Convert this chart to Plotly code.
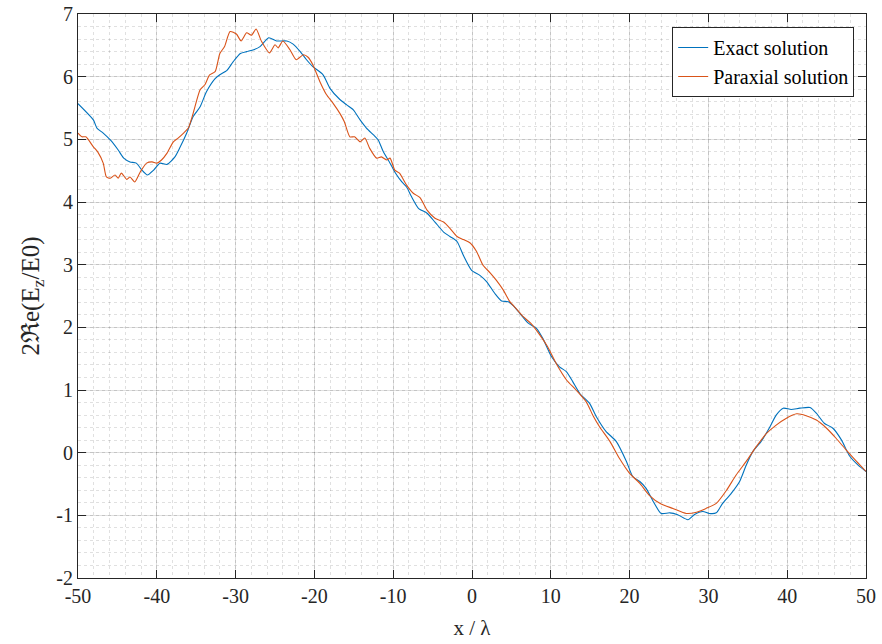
import plotly.graph_objects as go

# Exact field, sampled along x/lambda
x_exact = [-50, -48.05, -47.6, -46.8, -45.9, -44.9, -44.2, -43.4, -42.6, -41.9, -41.2, -40.4,
           -39.6, -38.7, -37.7, -37.1, -36.2, -35.4, -34.5, -33.7, -32.6, -32.0, -31.1, -30.3,
           -29.4, -28.6, -27.7, -26.9, -25.8, -24.8, -23.5, -22.7, -21.8, -21.0, -20.2, -18.9,
           -18.0, -16.8, -15.9, -15.06, -14.2, -13.4, -12.5, -11.9, -11.25, -10.4, -9.8, -8.9,
           -8.3, -7.7, -6.8, -5.7, -4.7, -3.6, -2.8, -1.9, -1.1, -0.05, 1.0, 1.85, 2.9, 3.75,
           4.6, 5.2, 6.1, 7.1, 8.2, 9.0, 10.1, 11.1, 12.0, 12.8, 13.7, 14.9, 15.8, 17.0, 18.3,
           19.6, 20.4, 21.3, 22.1, 23.0, 24.0, 25.1, 26.1, 27.4, 28.2, 29.3, 30.1, 31.0, 31.8,
           32.9, 33.96, 34.8, 35.65, 36.7, 37.8, 38.6, 39.5, 40.5, 41.6, 42.9, 43.7, 44.7, 45.8,
           46.9, 47.9, 49.0, 50]
y_exact = [5.57, 5.31, 5.18, 5.10, 4.99, 4.83, 4.70, 4.64, 4.62, 4.51, 4.43, 4.51,
           4.62, 4.60, 4.72, 4.86, 5.10, 5.36, 5.52, 5.76, 5.97, 6.03, 6.10, 6.24,
           6.37, 6.40, 6.43, 6.48, 6.62, 6.57, 6.57, 6.52, 6.40, 6.27, 6.16, 6.03,
           5.81, 5.64, 5.55, 5.47, 5.31, 5.18, 5.07, 4.99, 4.80, 4.62, 4.48, 4.32,
           4.24, 4.09, 3.90, 3.82, 3.68, 3.52, 3.45, 3.37, 3.15, 2.91, 2.83, 2.73, 2.54, 2.42,
           2.41, 2.35, 2.22, 2.07, 1.98, 1.82, 1.53, 1.37, 1.29, 1.13, 0.94, 0.79, 0.57, 0.34, 0.18,
           -0.14, -0.38, -0.46, -0.57, -0.78, -0.97, -0.96, -0.99, -1.07, -0.99, -0.94, -0.97, -0.96, -0.81,
           -0.65, -0.46, -0.20, 0.02, 0.18, 0.41, 0.60, 0.71, 0.69, 0.71, 0.72, 0.63, 0.47, 0.39,
           0.20, -0.05, -0.20, -0.30]

# Paraxial approximation, sampled along x/lambda
x_parax = [-50, -49.5, -49.0, -48.05, -47.5, -46.8, -46.4, -45.9, -45.3, -44.9, -44.5, -43.8,
           -43.4, -42.8, -42.1, -41.3, -40.6, -40.0, -39.4, -38.7, -37.9, -37.3, -36.6, -36.0,
           -35.4, -34.5, -33.9, -33.3, -32.6, -32.0, -31.4, -30.7, -29.9, -29.3, -28.6, -28.0,
           -27.4, -26.7, -25.7, -25.0, -24.6, -24.0, -23.1, -22.3, -21.4, -20.8, -20.2, -19.3,
           -18.5, -17.6, -16.75, -16.2, -15.5, -14.9, -14.2, -13.6, -13.0, -12.1, -11.5, -10.8,
           -10.4, -9.8, -9.2, -8.3, -7.45, -6.6, -5.7, -4.7, -3.6, -2.8, -1.9, -1.1, -0.27, 0.58,
           1.4, 2.3, 3.1, 4.0, 4.8, 5.6, 6.5, 7.5, 8.6, 9.6, 10.7, 12.0, 13.2, 14.5, 15.4, 16.2,
           17.5, 18.7, 20.0, 21.3, 22.5, 24.0, 25.5, 27.2, 28.5, 29.7, 31.0, 32.3, 33.5, 34.8,
           36.1, 37.4, 38.6, 39.9, 41.2, 42.4, 43.7, 45.0, 46.2, 47.5, 48.8, 50]
y_parax = [5.10, 5.04, 5.04, 4.88, 4.80, 4.62, 4.40, 4.38, 4.43, 4.38, 4.46, 4.36,
           4.40, 4.32, 4.48, 4.62, 4.64, 4.62, 4.67, 4.78, 4.96, 5.02, 5.10, 5.18,
           5.41, 5.79, 5.87, 6.03, 6.08, 6.37, 6.48, 6.72, 6.68, 6.57, 6.70, 6.66,
           6.76, 6.56, 6.38, 6.51, 6.46, 6.57, 6.43, 6.27, 6.35, 6.31, 6.19, 5.92,
           5.72, 5.57, 5.41, 5.28, 5.04, 5.04, 4.96, 5.02, 4.86, 4.70, 4.72, 4.67,
           4.70, 4.51, 4.46, 4.27, 4.14, 4.07, 3.87, 3.74, 3.68, 3.58, 3.45, 3.40, 3.35, 3.21,
           2.99, 2.87, 2.75, 2.59, 2.41, 2.30, 2.17, 2.06, 1.88, 1.69, 1.42, 1.16, 1.00, 0.81, 0.58, 0.41,
           0.18, -0.09, -0.33, -0.49, -0.68, -0.82, -0.89, -0.97, -0.95, -0.89, -0.81, -0.60, -0.36, -0.14,
           0.10, 0.31, 0.44, 0.55, 0.62, 0.59, 0.52, 0.39, 0.23, 0.04, -0.14, -0.30]

x_ticks = [-50, -40, -30, -20, -10, 0, 10, 20, 30, 40, 50]
x_tick_text = ["-50", "-40", "-30", "-20", "-10", "0", "10", "20", "30", "40", "50"]
y_ticks = [-2, -1, 0, 1, 2, 3, 4, 5, 6, 7]
y_tick_text = ["-2", "-1", "0", "1", "2", "3", "4", "5", "6", "7"]

FONT = "Liberation Serif, Times New Roman, serif"
AX = "#262626"

fig = go.Figure()
fig.add_trace(go.Scatter(x=x_exact, y=y_exact, mode="lines", name="Exact solution",
                         line=dict(color="#0072BD", width=1.1, shape="spline", smoothing=0.6)))
fig.add_trace(go.Scatter(x=x_parax, y=y_parax, mode="lines", name="Paraxial solution",
                         line=dict(color="#D95319", width=1.1, shape="spline", smoothing=0.6)))

axis_common = dict(
    showline=True, linecolor=AX, linewidth=1, mirror="ticks",
    ticks="inside", ticklen=8, tickwidth=1, tickcolor=AX,
    showgrid=True, gridcolor="rgba(0,0,0,0.12)", gridwidth=1,
    zeroline=False, automargin=False,
    tickfont=dict(family=FONT, size=20, color=AX),
)

fig.update_layout(
    width=882, height=644,
    margin=dict(l=78, r=16, t=14, b=66),
    paper_bgcolor="white", plot_bgcolor="white",
    font=dict(family=FONT, size=20, color=AX),
    showlegend=True,
    legend=dict(x=0.985, y=0.977, xanchor="right", yanchor="top",
                bgcolor="white", bordercolor=AX, borderwidth=1,
                font=dict(family=FONT, size=20, color="black"),
                tracegroupgap=0, itemwidth=30),
    xaxis=dict(range=[-50, 50], tickvals=x_ticks, ticktext=x_tick_text,
               title=dict(text="x / λ", standoff=14, font=dict(family=FONT, size=21, color=AX)),
               minor=dict(dtick=2, showgrid=True, griddash="dot",
                          gridcolor="rgba(0,0,0,0.12)", gridwidth=1, ticks=""),
               **axis_common),
    yaxis=dict(range=[-2, 7], tickvals=y_ticks, ticktext=y_tick_text,
               title=dict(text="2ℜe(E<sub>z</sub>/E0)", standoff=9,
                          font=dict(family=FONT, size=25, color=AX)),
               minor=dict(dtick=0.2, showgrid=True, griddash="dot",
                          gridcolor="rgba(0,0,0,0.12)", gridwidth=1, ticks=""),
               **axis_common),
)

fig.write_html("out.html")
